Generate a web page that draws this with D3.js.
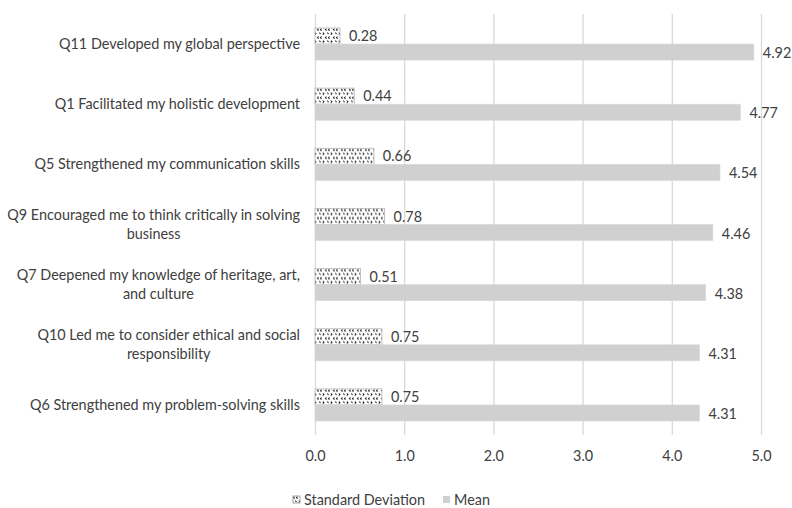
<!DOCTYPE html>
<html><head><meta charset="utf-8">
<script src="https://cdn.jsdelivr.net/npm/d3@7"></script>
<style>body{margin:0;background:#fff}text{font-family:Lato,"Open Sans",sans-serif;fill:#404040}</style>
</head><body><svg id="c" width="792" height="508"></svg>
<script>
const categories = [
  ["Q11 Developed my global perspective"],
  ["Q1 Facilitated my holistic development"],
  ["Q5 Strengthened my communication skills"],
  ["Q9 Encouraged me to think critically in solving", "business"],
  ["Q7 Deepened my knowledge of heritage, art,", "and culture"],
  ["Q10 Led me to consider ethical and social", "responsibility"],
  ["Q6 Strengthened my problem-solving skills"]
];
const sdValues = [0.28, 0.44, 0.66, 0.78, 0.51, 0.75, 0.75];
const meanValues = [4.92, 4.77, 4.54, 4.46, 4.38, 4.31, 4.31];
const xTicks = [0, 1, 2, 3, 4, 5];
const seriesNames = ["Standard Deviation", "Mean"];

const FS = 14.4;
const svg = d3.select("#c");
const pLeft = 315, pRight = 761, pTop = 14, pBottom = 435;
const x = d3.scaleLinear().domain([0, 5]).range([pLeft, pRight]);
const y = d3.scaleBand().domain(d3.range(categories.length)).range([pTop, pBottom]).paddingInner(0.467).paddingOuter(0.233);
const sub = d3.scaleBand().domain([0, 1]).range([0, y.bandwidth()]);

const defs = svg.append("defs");
const pat = defs.append("pattern").attr("id", "conf").attr("patternUnits", "userSpaceOnUse")
  .attr("width", 8).attr("height", 8);
pat.append("rect").attr("width", 8).attr("height", 8).attr("fill", "#fff");
pat.append("path").attr("d", "M1.6,0.6 L0.5,1.6 L1.6,2.6 M6.6,0.6 L5.5,1.6 L6.6,2.6 M2.8,4.6 L3.9,5.6 L2.8,6.6 M7.2,4.7 L8.2,5.6 M-0.8,4.7 L0.2,5.6 L-0.8,6.5")
  .attr("stroke", "#222").attr("stroke-width", 1.1).attr("fill", "none");

// gridlines
svg.append("g").attr("transform", `translate(0,${pBottom})`)
  .call(d3.axisBottom(x).tickValues(xTicks).tickSize(-(pBottom - pTop)).tickFormat(d3.format(".1f")).tickPadding(16))
  .call(g => g.select(".domain").remove())
  .call(g => g.selectAll("line").attr("stroke", "#d9d9d9").attr("stroke-width", 1.3))
  .call(g => g.selectAll("text").attr("font-size", FS).style("fill", "#404040")
    .style("font-family", 'Lato,"Open Sans",sans-serif'));

// bars
const grp = svg.append("g").selectAll("g").data(categories).join("g")
  .attr("transform", (d, i) => `translate(0,${y(i)})`);
grp.append("rect").attr("x", x(0)).attr("y", sub(0)).attr("height", sub.bandwidth())
  .attr("width", (d, i) => x(sdValues[i]) - x(0))
  .attr("fill", "url(#conf)").attr("stroke", "#bfbfbf").attr("stroke-width", 1);
grp.append("rect").attr("x", x(0)).attr("y", sub(1)).attr("height", sub.bandwidth())
  .attr("width", (d, i) => x(meanValues[i]) - x(0))
  .attr("fill", "#d0d0d0").attr("stroke", "#d8d8d8").attr("stroke-width", 0.6);
grp.append("text").attr("x", (d, i) => x(sdValues[i]) + 9).attr("y", sub(0) + sub.bandwidth() / 2)
  .attr("dy", "0.35em").attr("font-size", FS).text((d, i) => sdValues[i].toFixed(2));
grp.append("text").attr("x", (d, i) => x(meanValues[i]) + 9).attr("y", sub(1) + sub.bandwidth() / 2 + 1)
  .attr("dy", "0.35em").attr("font-size", FS).text((d, i) => meanValues[i].toFixed(2));

// category labels
grp.each(function (lines) {
  const g = d3.select(this);
  const cy = y.bandwidth() / 2;
  const t = g.append("text").attr("font-size", FS);
  const lh = 19;
  const spans = lines.map((l, j) => t.append("tspan").text(l)
    .attr("y", cy + (j - (lines.length - 1) / 2) * lh).attr("dy", "0.35em"));
  const w = d3.max(spans, s => s.node().getComputedTextLength());
  const cx = 300 - w / 2;
  t.attr("text-anchor", "middle");
  spans.forEach(s => s.attr("x", cx));
});

// legend
const lg = svg.append("g");
const legendX = [293, 443];
seriesNames.forEach((n, i) => {
  lg.append("rect").attr("x", legendX[i]).attr("y", 496).attr("width", 7).attr("height", 7)
    .attr("fill", i === 0 ? "url(#conf)" : "#d0d0d0").attr("stroke", i === 0 ? "#a0a0a0" : "none");
  lg.append("text").attr("x", legendX[i] + 11).attr("y", 500).attr("dy", "0.35em")
    .attr("font-size", FS).text(n);
});
</script></body></html>
